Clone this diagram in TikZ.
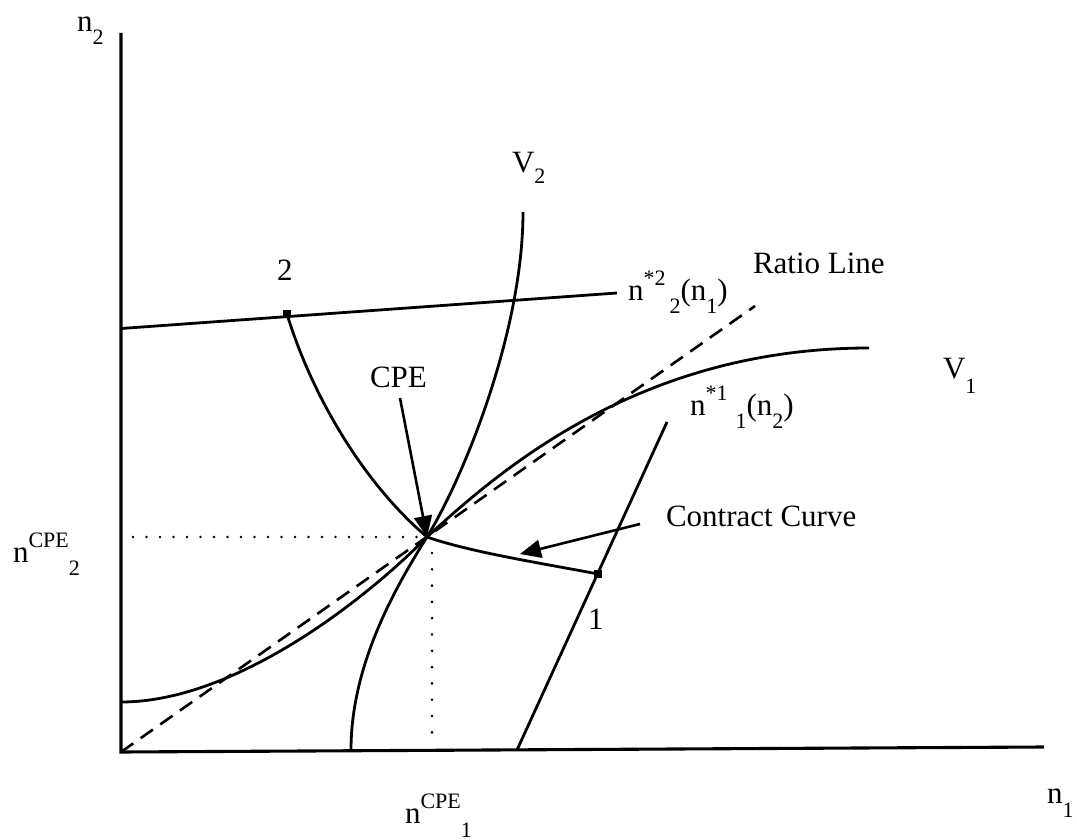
\documentclass[tikz,border=0pt]{standalone}
\usepackage{fontspec}
\setmainfont{Liberation Serif}
\usetikzlibrary{arrows.meta}
\newcommand\upx[1]{\raisebox{15pt}{\fontsize{22}{22}\selectfont #1}}
\newcommand\dnx[2][13pt]{\raisebox{-#1}{\fontsize{22}{22}\selectfont #2}}
\begin{document}
\begin{tikzpicture}[x=1pt,y=-1pt,
  axis/.style={line width=3.1pt},
  curve/.style={line width=2.8pt},
  ratio/.style={line width=2.6pt,dash pattern=on 15pt off 9pt},
  hdots/.style={line width=2.9pt,line cap=round,dash pattern=on 0pt off 13.5pt},
  vdots/.style={line width=2.9pt,line cap=round,dash pattern=on 0pt off 16.3pt},
  pointer/.style={line width=2.6pt,-{Triangle[length=21pt,width=18pt]}},
  marker/.style={fill=black,minimum size=7.5pt,inner sep=0pt,outer sep=0pt},
  lbl/.style={anchor=base west,inner sep=0pt,outer sep=0pt,font=\fontsize{31}{31}\selectfont}]
\useasboundingbox (0,0) rectangle (1077,840);
% key coordinates
\coordinate (O) at (121,752);
\coordinate (ytop) at (121,33);
\coordinate (xend) at (1044,747);
\coordinate (cpe) at (427,537);
\coordinate (hL) at (121,328.5);
\coordinate (hR) at (617,293);
\coordinate (rEnd) at (755,306);
\coordinate (v1L) at (121,702);
\coordinate (v1R) at (869,348);
\coordinate (v2B) at (351,750);
\coordinate (v2T) at (523,212);
\coordinate (lB) at (517,750);
\coordinate (lT) at (667,422);
\coordinate (hdA) at (133,537);
\coordinate (hdB) at (418,537);
\coordinate (vdA) at (432,553);
\coordinate (vdB) at (432,748);
\coordinate (cpetail) at (400,398);
\coordinate (cctail) at (640,524);
\coordinate (cctip) at (520,554);
\node[marker] (p2) at (287,314) {};
\node[marker] (p1) at (598,574) {};
% axes
\draw[axis] (ytop) -- (O) -- (xend);
% ratio line
\draw[ratio] (O) -- (rEnd);
% n*2 line
\draw[curve] (hL) -- (hR);
% n*1 line
\draw[curve] (lB) -- (lT);
% V1
\draw[curve] (v1L) .. controls (235,702) and (365,600) .. (cpe)
  .. controls (500,470) and (640,348) .. (v1R);
% V2
\draw[curve] (v2B) .. controls (351,665) and (395,588) .. (cpe)
  .. controls (465,475) and (523,330) .. (v2T);
% contract curve
\draw[curve] (p2.center) .. controls (310,390) and (360,480) .. (cpe)
  .. controls (470,552) and (540,563) .. (p1.center);
% dotted guides
\draw[hdots] (hdA) -- (hdB);
\draw[vdots] (vdA) -- (vdB);
% labels
\node[lbl] (ln2) at (77,32) {n\dnx{2}};
\node[lbl] (ln1) at (1047,803) {n\dnx[14pt]{1}};
\node[lbl] (lv2) at (512,172) {V\dnx[11pt]{2}};
\node[lbl] (lv1) at (943,378) {V\dnx[15pt]{1}};
\node[lbl] (lratio) at (753,273) {Ratio Line};
\node[lbl] (lbr2) at (628,300) {n\upx{*2}\kern4pt\dnx{2}(n\dnx{1})};
\node[lbl] (lbr1) at (690,415) {n\upx{*1}\kern8pt\dnx{1}(n\dnx{2})};
\node[lbl] (lcpe) at (370,387) {CPE};
\node[lbl] (lcc) at (666,526) {Contract Curve};
\node[lbl] (lone) at (588,629) {1};
\node[lbl] (ltwo) at (277,280) {2};
\node[lbl] (lcpe2) at (13,562) {n\upx{CPE}\dnx{2}};
\node[lbl] (lcpe1) at (405,823) {n\upx{CPE}\dnx[14pt]{1}};
% pointers
\draw[pointer] (cpetail) -- (cpe);
\draw[pointer] (cctail) -- (cctip);
\end{tikzpicture}
\end{document}
